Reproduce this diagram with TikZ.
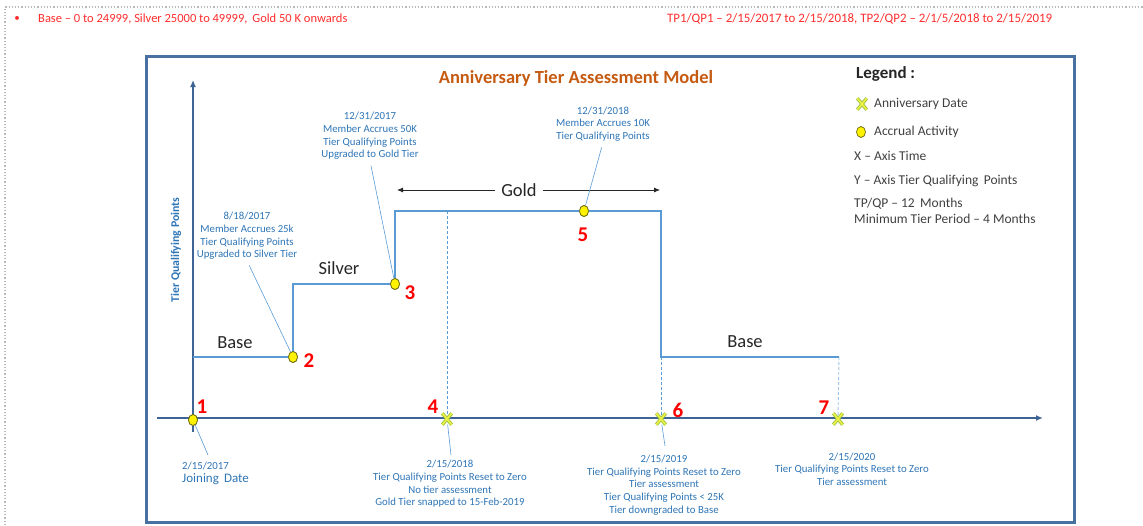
\documentclass[tikz,border=0pt]{standalone}
\usepackage{fontspec}
\setmainfont{Carlito}
\usetikzlibrary{arrows.meta,shapes.geometric}
\definecolor{hdrred}{RGB}{255,45,45}
\definecolor{annblue}{RGB}{46,117,182}
\definecolor{stepblue}{RGB}{91,155,213}
\definecolor{axisblue}{RGB}{62,100,150}
\definecolor{framblue}{RGB}{72,112,160}
\definecolor{titleorange}{RGB}{197,90,17}
\definecolor{labgray}{RGB}{38,38,38}
\definecolor{leggray}{RGB}{64,64,64}
\definecolor{dotyellow}{RGB}{255,242,0}
\definecolor{dotedge}{RGB}{110,110,20}
\definecolor{xgreen}{RGB}{150,190,60}
\definecolor{xyellow}{RGB}{235,240,70}
\begin{document}
\begin{tikzpicture}[x=1pt,y=-1pt,
  hdr/.style={text=hdrred, font=\fontsize{12.5}{14}\selectfont, anchor=west, inner sep=0pt},
  ann/.style={text=annblue, font=\fontsize{10.8}{12.6}\selectfont, align=center, inner sep=1pt},
  leader/.style={draw=stepblue, line width=0.6pt},
  tierline/.style={draw=stepblue, line width=1.6pt},
  dashline/.style={draw=stepblue, line width=0.9pt, dash pattern=on 3pt off 2pt},
  axis/.style={draw=axisblue, line width=1.8pt, -{Latex[length=7pt,width=6pt]}},
  num/.style={text=red, font=\fontsize{21}{22}\selectfont\bfseries, inner sep=0pt},
  tierlab/.style={text=labgray, font=\fontsize{18.5}{20}\selectfont, inner sep=1pt},
  legtext/.style={text=leggray, font=\fontsize{13.5}{16}\selectfont, anchor=west, inner sep=0pt, align=left},
  dot/.style={ellipse, fill=dotyellow, draw=dotedge, line width=0.7pt, minimum width=9pt, minimum height=11pt, inner sep=0pt},
  xbox/.style={rectangle, minimum width=9pt, minimum height=11pt, inner sep=0pt},
  xout/.style={draw=xgreen, line width=3.4pt},
  xin/.style={draw=xyellow, line width=1.8pt}
]
\useasboundingbox (0,0) rectangle (1143,525);
% outer dotted border
\draw[gray!55, line width=1.2pt, dotted] (5,525) -- (5,7) -- (1143,7);
% header
\node[text=hdrred, font=\fontsize{11}{12}\selectfont, inner sep=0pt] (bul) at (17,19) {•};
\node[hdr] (h1) at (38,19) {Base – 0 to 24999, Silver 25000 to 49999,\, Gold 50 K onwards};
\node[hdr, font=\fontsize{12.9}{14}\selectfont] (h2) at (667,19) {TP1/QP1 – 2/15/2017 to 2/15/2018, TP2/QP2 – 2/1/5/2018 to 2/15/2019};
% main frame
\draw[framblue, line width=3pt] (146,56) rectangle (1074,522);
\node[text=titleorange, font=\fontsize{18.5}{20}\selectfont\bfseries] (title) at (576,78) {Anniversary Tier Assessment Model};
% axes
\coordinate (yb) at (193,432);
\coordinate (yt) at (193,80);
\coordinate (xl) at (157,418);
\coordinate (xr) at (1043,418);
\draw[axis] (yb) -- (yt);
\draw[axis] (xl) -- (xr);
\node[text=annblue, font=\fontsize{11.8}{13}\selectfont\bfseries, rotate=90] (ylab) at (176,250) {Tier Qualifying Points};
% tier line
\coordinate (s0) at (193,357);
\coordinate (s1) at (293,284);
\coordinate (s2) at (395,211);
\coordinate (s3) at (661,211);
\coordinate (s4) at (661,357);
\coordinate (s5) at (839,357);
\coordinate (d4) at (447,211);
\node[xbox] (x4) at (447,419) {};
\node[xbox] (x6) at (661,419) {};
\node[xbox] (x7) at (838,419) {};
\draw[dashline] (d4) -- (x4.center);
\draw[dashline] (s4) -- (x6.center);
\draw[dashline, draw=stepblue!60] (s5) -- (x7.center);
\node[dot] (p2) at (293,357) {};
\node[dot] (p3) at (395,284) {};
\node[dot] (p5) at (584,211) {};
\node[dot] (p1) at (193,420) {};
\draw[tierline] (s0) -- (p2.center) -- (s1) -- (p3.center) -- (s2) -- (s3) -- (s4) -- (s5);
\node[dot] at (p2) {};
\node[dot] at (p3) {};
\node[dot] at (p5) {};
\node[dot] at (p1) {};
% X markers
\foreach \m in {x4,x6,x7}{
  \draw[xout] (\m.north west) -- (\m.south east) (\m.south west) -- (\m.north east);
  \draw[xin] (\m.north west) -- (\m.south east) (\m.south west) -- (\m.north east);
}
% gold arrow
\coordinate (gl) at (397,190);
\coordinate (gr) at (660,190);
\node[tierlab, fill=white, inner xsep=6pt] (gold) at (519,190) {Gold};
\draw[labgray, line width=0.8pt, -{Latex[length=6pt,width=5pt]}] (gold) -- (gl);
\draw[labgray, line width=0.8pt, -{Latex[length=6pt,width=5pt]}] (gold) -- (gr);
\node[tierlab] (silver) at (339,268) {Silver};
\node[tierlab] (base1) at (235,343) {Base};
\node[tierlab] (base2) at (745,342) {Base};
% numbers
\node[num] (n1) at (202,407) {1};
\node[num] (n2) at (309,361) {2};
\node[num] (n3) at (410,293) {3};
\node[num] (n4) at (433,407) {4};
\node[num] (n5) at (583,235) {5};
\node[num] (n6) at (678,410) {6};
\node[num] (n7) at (824,408) {7};
% annotations
\node[ann] (a2) at (247,236) {8/18/2017\\Member Accrues 25k\\Tier Qualifying Points\\Upgraded to Silver Tier};
\node[ann] (a3) at (370,136) {12/31/2017\\Member Accrues 50K\\Tier Qualifying Points\\Upgraded to Gold Tier};
\node[ann] (a5) at (603,124) {12/31/2018\\Member Accrues 10K\\Tier Qualifying Points};
\node[ann, anchor=north west, align=left] (a1) at (181,461) {2/15/2017\\{\fontsize{13}{13}\selectfont Joining\, Date}};
\node[ann] (a4) at (450,484) {2/15/2018\\Tier Qualifying Points Reset to Zero\\No tier assessment\\Gold Tier snapped to 15-Feb-2019};
\node[ann] (a6) at (664,485) {2/15/2019\\Tier Qualifying Points Reset to Zero\\Tier assessment\\Tier Qualifying Points < 25K\\Tier downgraded to Base};
\node[ann] (a7) at (852,469) {2/15/2020\\Tier Qualifying Points Reset to Zero\\Tier assessment};
\draw[leader, shorten <=5pt] (a2.south) -- (p2);
\draw[leader, shorten <=5pt] (a3.south) -- (p3);
\draw[leader, shorten <=5pt] (a5.south) -- (p5);
\draw[leader] (p1) -- (208,455);
\draw[leader] (x4) -- (451,455);
\draw[leader] (x6) -- (665,446);
% legend
\node[text=labgray, font=\fontsize{17}{19}\selectfont\bfseries, anchor=west, inner sep=0pt] (legt) at (856,74) {Legend :};
\node[xbox] (lx) at (862,104) {};
\draw[xout] (lx.north west) -- (lx.south east) (lx.south west) -- (lx.north east);
\draw[xin] (lx.north west) -- (lx.south east) (lx.south west) -- (lx.north east);
\node[legtext] (l1) at (874,104) {Anniversary Date};
\node[dot] (ld) at (861,132) {};
\node[legtext] (l2) at (874,132) {Accrual Activity};
\node[legtext] (l3) at (854,156) {X – Axis Time};
\node[legtext] (l4) at (854,181) {Y – Axis Tier Qualifying\, Points};
\node[legtext, anchor=north west] (l5) at (854,198) {TP/QP – 12\, Months\\Minimum Tier Period – 4 Months};
\end{tikzpicture}
\end{document}
